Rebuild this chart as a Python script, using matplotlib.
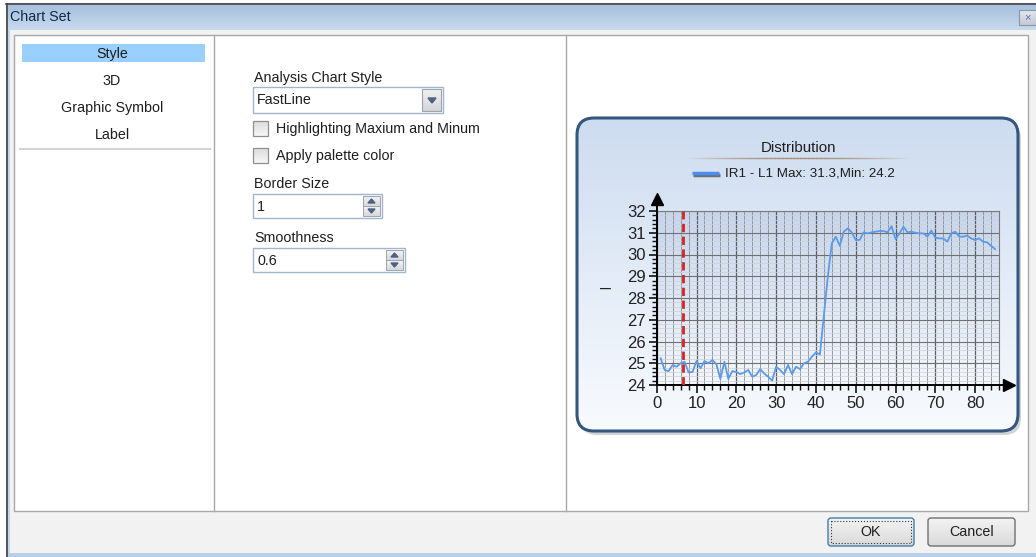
import matplotlib

matplotlib.use("Agg")

import matplotlib.pyplot as plt
import numpy as np
from matplotlib.colors import LinearSegmentedColormap
from matplotlib.collections import LineCollection
from matplotlib.patches import FancyBboxPatch, Polygon, Rectangle
from matplotlib.ticker import MultipleLocator

plt.rcParams["font.family"] = ["Liberation Sans", "DejaVu Sans"]

x_values = list(range(1, 86))
ir1_l1 = [
    25.23, 24.69, 24.64, 24.92, 24.84, 25.00, 25.07, 24.58, 24.60, 25.10,
    24.77, 25.10, 25.00, 25.15, 24.95, 24.28, 25.07, 24.28, 24.64, 24.60,
    24.50, 24.58, 24.69, 24.38, 24.46, 24.73, 24.53, 24.38, 24.20, 24.84,
    24.69, 24.50, 24.92, 24.50, 24.84, 24.73, 25.00, 25.07, 25.30, 25.50,
    25.40, 27.20, 29.00, 30.51, 30.82, 30.40, 31.05, 31.20, 31.02, 30.67,
    30.67, 31.02, 30.97, 31.02, 31.05, 31.08, 31.08, 31.02, 31.30, 30.71,
    30.97, 31.28, 31.02, 31.05, 31.00, 30.97, 30.97, 30.82, 31.10, 30.77,
    30.74, 30.74, 30.59, 30.97, 31.05, 30.82, 30.82, 30.87, 30.74, 30.67,
    30.74, 30.59, 30.56, 30.40, 30.25,
]
marker_x = 6.7
x_ticks = list(range(0, 90, 10))
y_ticks = list(range(24, 33))
series_label = "IR1 - L1 Max: 31.3,Min: 24.2"
chart_title = "Distribution"

# dialog texts
menu_items = ["Style", "3D", "Graphic Symbol", "Label"]
checkbox_labels = ["Highlighting Maxium and Minum", "Apply palette color"]
style_value = "FastLine"
border_size = "1"
smoothness = "0.6"

W, H = 1036, 557
fig = plt.figure(figsize=(W / 100, H / 100), dpi=100)
bg = fig.add_axes([0, 0, 1, 1])
bg.set_xlim(0, W)
bg.set_ylim(H, 0)
bg.axis("off")

UI = 10.3


def box(x0, y0, x1, y1, fc, ec="none", lw=1.0, z=1, ls="-"):
    p = Rectangle((x0, y0), x1 - x0, y1 - y0, facecolor=fc, edgecolor=ec,
                  lw=lw, zorder=z, linestyle=ls)
    bg.add_patch(p)
    return p


def vgrad(x0, y0, x1, y1, top, bottom, z=1, clip=None):
    cmap = LinearSegmentedColormap.from_list("g", [top, bottom])
    im = bg.imshow(np.linspace(0, 1, 128).reshape(-1, 1), cmap=cmap,
                   extent=(x0, x1, y1, y0), aspect="auto", zorder=z,
                   interpolation="bilinear")
    if clip is not None:
        im.set_clip_path(clip)
    return im


def label(x, y, s, size=UI, ha="left", color="#1e1e1e", z=5):
    bg.text(x, y + 1, s, fontsize=size, ha=ha, va="center", color=color, zorder=z)


# window frame and title bar
box(0, 0, W, H, "#ffffff", z=0)
box(6, 3, W, H, "#c3d6ec", z=0.5)
vgrad(8, 5, W, 30, "#a6c0dd", "#c8daee", z=1)
bg.plot([6, W], [4, 4], color="#404040", lw=1.2, zorder=2)
bg.plot([6.5, 6.5], [4, H], color="#404040", lw=1.2, zorder=2)
label(10, 16, "Chart Set", size=UI, color="#10284a")
vgrad(1019, 10, 1036, 25, "#e4e8ee", "#c4cad4", z=2)
box(1019, 10, 1036, 25, "none", "#8a95a5", lw=0.8, z=3)
label(1027, 16.5, "×", size=8, ha="center", color="#5a6ad0")

# body
box(10, 30, W, 553, "#f2f2f2", z=1)
box(14, 35, 1028, 511, "#ffffff", "#a8a8a8", lw=1.0, z=1.5)
bg.plot([214, 214], [35, 511], color="#a8a8a8", lw=1.0, zorder=2)
bg.plot([566, 566], [35, 511], color="#a8a8a8", lw=1.0, zorder=2)
box(8, 553, W, H, "#b9cfe8", z=1)

# left menu
box(22, 44, 205, 62, "#99d0ff", z=2)
for i, item in enumerate(menu_items):
    label(112, 53 + 27 * i, item, ha="center")
bg.plot([20, 210], [149, 149], color="#d4d4d4", lw=1.5, zorder=2)

# middle options
label(254, 77, "Analysis Chart Style")
box(253, 87, 443, 113, "#ffffff", "#a3b5cc", lw=1.0, z=2)
vgrad(422, 89, 441, 111, "#f2f2f2", "#d6d6d6", z=3)
box(422, 89, 441, 111, "none", "#9aa5b3", lw=0.8, z=4)
bg.add_patch(Polygon([[428, 98], [436, 98], [432, 103]], closed=True,
                     color="#4d6185", zorder=5))
label(257, 99, style_value)
for i, txt in enumerate(checkbox_labels):
    y0 = 121 + 27 * i
    vgrad(253, y0, 268, y0 + 15, "#dcdcdc", "#f6f6f6", z=2)
    box(253, y0, 268, y0 + 15, "none", "#8e8f8f", lw=0.9, z=3)
    label(276, y0 + 7, txt)

for name, yb, xr, val in [("Border Size", 194, 382, border_size),
                          ("Smoothness", 248, 405, smoothness)]:
    label(254, yb - 11, name)
    box(253, yb, xr, yb + 24, "#ffffff", "#a3b5cc", lw=1.0, z=2)
    label(257, yb + 12, val)
    bx = xr - 19
    for k in range(2):
        vgrad(bx, yb + 2 + 10 * k, xr - 2, yb + 12 + 10 * k, "#f4f4f4", "#d8d8d8", z=3)
        box(bx, yb + 2 + 10 * k, xr - 2, yb + 12 + 10 * k, "none", "#9aa5b3", lw=0.7, z=4)
    cx = (bx + xr - 2) / 2
    bg.add_patch(Polygon([[cx - 3.5, yb + 9], [cx + 3.5, yb + 9], [cx, yb + 5]],
                         color="#4d6185", zorder=5))
    bg.add_patch(Polygon([[cx - 3.5, yb + 15], [cx + 3.5, yb + 15], [cx, yb + 19]],
                         color="#4d6185", zorder=5))

# buttons
for x0, x1, txt, ec in [(828, 914, "OK", "#3c7fb1"), (928, 1015, "Cancel", "#707070")]:
    shape = FancyBboxPatch((x0, 518), x1 - x0, 28,
                           boxstyle="round,pad=0,rounding_size=3",
                           facecolor="none", edgecolor=ec, lw=1.0, zorder=4)
    bg.add_patch(shape)
    vgrad(x0, 518, x1, 546, "#f4f4f4", "#d9d9d9", z=3, clip=shape)
    label((x0 + x1) / 2, 531, txt, ha="center")
box(831, 521, 911, 543, "none", "#333333", lw=0.8, z=5, ls=":")

# chart panel
shadow = FancyBboxPatch((580, 122), 441, 313, boxstyle="round,pad=0,rounding_size=17",
                        facecolor="#9aa0a8", edgecolor="none", alpha=0.45, zorder=2)
bg.add_patch(shadow)
panel = FancyBboxPatch((577, 118), 441, 313, boxstyle="round,pad=0,rounding_size=17",
                       facecolor="none", edgecolor="#35567f", lw=2.2, zorder=4)
bg.add_patch(panel)
vgrad(577, 118, 1018, 431, "#cddcf0", "#f8fbfe", z=3, clip=panel)

bg.text(798, 148, chart_title, fontsize=10.8, ha="center", va="center",
        color="#1e1e1e", zorder=6)
xs = np.linspace(683, 912, 60)
segs = [[(xs[i], 158), (xs[i + 1], 158)] for i in range(len(xs) - 1)]
alphas = np.sin(np.linspace(0, np.pi, len(segs))) * 0.8
bg.add_collection(LineCollection(segs, colors=[(0.62, 0.45, 0.3, a) for a in alphas],
                                 lw=1.0, zorder=6))
bg.plot([693, 720], [175, 175], color="#707070", lw=2.5, zorder=6, solid_capstyle="butt")
bg.plot([692, 719], [173, 173], color="#4a8ff0", lw=2.5, zorder=7, solid_capstyle="butt")
bg.text(725, 174, series_label, fontsize=9.6, ha="left", va="center",
        color="#1e1e1e", zorder=7)

# plot area
x_min, x_max, y_min, y_max = 0, 86, 24, 32
ax = fig.add_axes([656.7 / W, 1 - 385 / H, (999 - 656.7) / W, 174 / H])
ax.set_facecolor("none")
ax.imshow(np.linspace(0, 1, 128).reshape(-1, 1),
          cmap=LinearSegmentedColormap.from_list("pa", ["#c6d6ee", "#f4f7fc"]),
          extent=(x_min, x_max, y_min, y_max), aspect="auto", zorder=0,
          interpolation="bilinear")
ax.set_xlim(x_min, x_max)
ax.set_ylim(y_min, y_max)
ax.set_xticks(x_ticks)
ax.set_yticks(y_ticks)
ax.xaxis.set_minor_locator(MultipleLocator(2))
ax.yaxis.set_minor_locator(MultipleLocator(0.2))
ax.xaxis.grid(True, which="major", color="#5e5e5e", lw=0.9, zorder=1)
ax.xaxis.grid(True, which="minor", color="#8c8c8c", lw=0.6, zorder=1)
ax.yaxis.grid(True, which="major", color="#707070", lw=0.8, zorder=1)
ax.yaxis.grid(True, which="minor", color="#cdd1d8", lw=0.5, zorder=1)
ax.set_axisbelow(True)
ax.tick_params(which="major", direction="out", length=6, width=1.2, color="#111111",
               labelsize=12, labelcolor="#222222", pad=2)
ax.tick_params(which="minor", direction="out", length=3.5, width=1.0, color="#111111")
for side in ("top", "right"):
    ax.spines[side].set_color("#7a7a7a")
    ax.spines[side].set_linewidth(0.8)
for side in ("left", "bottom"):
    ax.spines[side].set_color("#000000")
    ax.spines[side].set_linewidth(1.4)
ax.plot([x_max, 88.6], [y_min, y_min], color="black", lw=1.4, clip_on=False, zorder=5)
ax.plot([88.6], [y_min], marker=">", color="black", ms=8, clip_on=False, zorder=5)
ax.plot([x_min, x_min], [y_max, 32.55], color="black", lw=1.4, clip_on=False, zorder=5)
ax.plot([x_min], [32.55], marker="^", color="black", ms=8, clip_on=False, zorder=5)

ax.plot(x_values, ir1_l1, color="#5b9bea", lw=1.3, zorder=4)
ax.axvline(marker_x, color="#d42424", lw=2.0, dashes=(3, 1.6), zorder=4)

ax.set_ylabel("–", rotation=0, fontsize=14, color="#222222")
ax.yaxis.set_label_coords((606 - 656.7) / 342.3, (385 - 297) / 174)

fig.savefig("out.png", dpi=100)
